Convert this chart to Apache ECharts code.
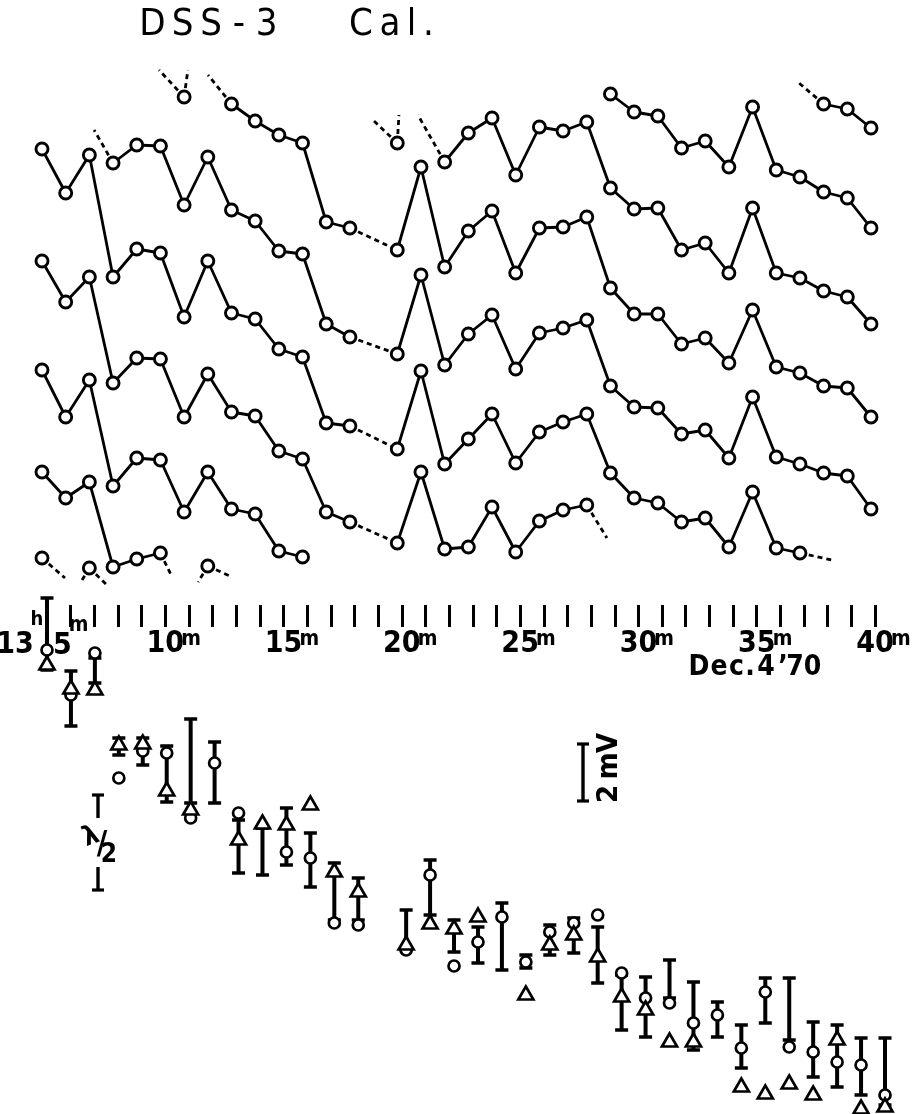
<!DOCTYPE html>
<html>
<head>
<meta charset="utf-8">
<script src="https://cdn.jsdelivr.net/npm/echarts@6/dist/echarts.min.js"></script>
<style>html,body{margin:0;padding:0;background:#fff}#chart{width:913px;height:1114px}</style>
</head>
<body>
<div id="chart"></div>
<script>
// ---------- DATA ----------
// minutes after 13h (Dec. 4 '70)
const minutes = [5,6,7,8,9,10,11,12,13,14,15,16,17,18,19,20,21,22,23,24,25,26,27,28,29,30,31,32,33,34,35,36,37,38,39,40];

// Upper panel: phase traces (arbitrary phase units, repeated every ~lambda/2), null = not plotted
const traceTop3 = [null,null,null,null,null,null,null,null,null,null,null,null,null,null,null,null,null,null,null,null,null,null,null,null,null,null,null,null,null,null,null,null,null,496,491,472];
const traceTop2 = [null,null,null,null,null,null,null,null,null,null,null,null,null,null,null,null,null,null,null,null,null,null,null,null,506,488,484,452,459,433,493,430,423,408,402,372];
const traceTop1 = [null,null,null,null,null,null,null,null,null,null,null,null,null,null,null,457,null,438,467,482,425,473,469,478,412,391,392,350,357,327,392,327,322,309,303,276];
const trace0 = [null,null,null,null,null,null,503,null,496,479,465,457,378,372,null,350,433,333,369,389,327,372,373,383,312,286,286,256,262,237,290,233,227,214,212,183];
const trace1 = [null,null,null,437,455,454,395,443,390,379,349,346,276,263,null,246,325,235,266,285,231,267,272,280,214,193,192,166,170,142,203,143,136,127,124,91];
const trace2 = [451,407,445,323,351,347,283,339,287,281,251,243,177,174,null,151,229,136,161,186,137,168,178,186,127,102,97,78,82,53,108,52,47,null,null,null];
const trace3 = [339,298,323,217,242,241,183,226,188,184,149,141,88,78,null,57,128,51,53,93,48,79,90,95,null,null,null,null,null,null,null,null,null,null,null,null];
const trace4 = [230,183,220,114,142,140,88,128,91,86,49,43,null,null,null,null,null,null,null,null,null,null,null,null,null,null,null,null,null,null,null,null,null,null,null,null];
const trace5 = [128,102,118,33,41,47,null,34,null,null,null,null,null,null,null,null,null,null,null,null,null,null,null,null,null,null,null,null,null,null,null,null,null,null,null,null];
const trace6 = [42,null,32,null,null,null,null,null,null,null,null,null,null,null,null,null,null,null,null,null,null,null,null,null,null,null,null,null,null,null,null,null,null,null,null,null];
const missingMinutes = [19];
// dashed continuation stubs: [minute, value, towardMinute, towardValue]
const stubs = [
  [8,437,7.2,470],
  [11,503,9.94,530],[11,503,11.16,530],
  [13,496,12.01,525],
  [20,457,18.97,480],[20,457,20.07,485],
  [22,438,20.87,485],
  [38,496,36.91,518],
  [37,47,38.35,40],
  [28,95,28.85,62],
  [10,47,10.49,23],
  [12,34,11.59,18],[12,34,13.02,23],
  [5,42,5.97,22],
  [7,32,6.69,20],[7,32,7.74,15]
];

// Lower panel (amplitude, arbitrary units; 2 mV = 60 units)
const bottomMinutes = [5,6,7,8,9,10,11,12,13,14,15,16,17,18,20,21,22,23,24,25,26,27,28,29,30,31,32,33,34,35,36,37,38,39,40];
const circleValues   = [460,415,457,332,359,357,292,347,297,null,258,252,187,185,160,235,144,168,193,148,178,187,195,137,112,107,87,95,62,118,63,58,48,45,15];
const triangleValues = [447,423,422,367,368,321,302,null,272,288,287,307,240,220,167,188,183,195,null,117,167,177,155,115,102,70,70,null,25,18,28,17,72,3,5];
const barHigh        = [512,439,452,372,372,364,391,368,290,282,302,277,247,232,200,250,190,183,207,155,185,192,183,135,133,150,128,108,85,132,132,88,85,72,72];
const barLow         = [440,384,427,355,345,308,307,307,237,235,245,223,190,190,160,195,158,147,140,142,155,157,127,80,73,112,60,73,42,87,70,33,23,15,5];

// Axis labels
const labelMinutes = [10,15,20,25,30,35,40];
const labelTexts = ['10','15','20','25','30','35','40'];

// ---------- CHART ----------
const NARROW = '"Liberation Sans Narrow","DejaVu Sans Condensed","Liberation Sans","DejaVu Sans",sans-serif';
const chart = echarts.init(document.getElementById('chart'), null, {renderer: 'canvas'});

const allTraces = [traceTop3, traceTop2, traceTop1, trace0, trace1, trace2, trace3, trace4, trace5, trace6];

const bridges = [];
allTraces.forEach(arr => missingMinutes.forEach(mm => {
  const i = minutes.indexOf(mm);
  if (i > 0 && i < minutes.length - 1 && arr[i] == null && arr[i-1] != null && arr[i+1] != null) {
    bridges.push([minutes[i-1], arr[i-1], minutes[i+1], arr[i+1]]);
  }
}));

function dashedSeries(data) {
  return {
    type: 'custom', xAxisIndex: 0, yAxisIndex: 0, data: data,
    encode: {x: [0, 2], y: [1, 3]},
    renderItem: (params, api) => {
      const a = api.coord([api.value(0), api.value(1)]);
      const b = api.coord([api.value(2), api.value(3)]);
      return {type: 'line', shape: {x1: a[0], y1: a[1], x2: b[0], y2: b[1]},
              style: {stroke: '#000', lineWidth: 2.8, lineDash: [5, 4], fill: null}};
    },
    z: 2, silent: true, animation: false, clip: false
  };
}

const traceSeries = allTraces.map(arr => ({
  type: 'line', xAxisIndex: 0, yAxisIndex: 0,
  data: minutes.map((m, i) => [m, arr[i] == null ? '-' : arr[i]]),
  symbol: 'circle', symbolSize: 12, showSymbol: true, showAllSymbol: true, connectNulls: false,
  lineStyle: {color: '#000', width: 2.8},
  itemStyle: {color: '#fff', borderColor: '#000', borderWidth: 2.9},
  emphasis: {disabled: true}, silent: true, animation: false, z: 3, clip: false
}));

const errorBarSeries = {
  type: 'custom', xAxisIndex: 1, yAxisIndex: 1,
  data: bottomMinutes.map((m, i) => [m, barHigh[i], barLow[i]]),
  encode: {x: 0, y: [1, 2]},
  renderItem: (params, api) => {
    const m = api.value(0);
    const t = api.coord([m, api.value(1)]);
    const b = api.coord([m, api.value(2)]);
    const w = 6.5;
    return {type: 'group', children: [
      {type: 'line', shape: {x1: t[0], y1: t[1], x2: b[0], y2: b[1]}, style: {stroke: '#000', lineWidth: 4}},
      {type: 'line', shape: {x1: t[0]-w, y1: t[1], x2: t[0]+w, y2: t[1]}, style: {stroke: '#000', lineWidth: 3.5}},
      {type: 'line', shape: {x1: b[0]-w, y1: b[1], x2: b[0]+w, y2: b[1]}, style: {stroke: '#000', lineWidth: 3.5}}
    ]};
  },
  z: 2, silent: true, animation: false, clip: false
};

const circleSeries = {
  type: 'scatter', xAxisIndex: 1, yAxisIndex: 1,
  data: bottomMinutes.map((m, i) => circleValues[i] == null ? null : [m, circleValues[i]]).filter(d => d),
  symbol: 'circle', symbolSize: 11,
  itemStyle: {color: '#fff', borderColor: '#000', borderWidth: 2.7, opacity: 1},
  emphasis: {disabled: true}, silent: true, animation: false, z: 4, clip: false
};
const triangleSeries = {
  type: 'scatter', xAxisIndex: 1, yAxisIndex: 1,
  data: bottomMinutes.map((m, i) => triangleValues[i] == null ? null : [m, triangleValues[i]]).filter(d => d),
  symbol: 'triangle', symbolSize: [15, 13],
  itemStyle: {color: '#fff', borderColor: '#000', borderWidth: 2.7, opacity: 1},
  emphasis: {disabled: true}, silent: true, animation: false, z: 4, clip: false
};

// ---------- annotations ----------
function charText(ch, x, y, size, extra, weight) {
  return Object.assign({
    type: 'text', x: x, y: y, silent: true,
    style: {text: ch, font: (weight || 'bold') + ' ' + size + 'px ' + NARROW, fill: '#000',
            align: 'center', verticalAlign: 'middle', textAlign: 'center', textVerticalAlign: 'middle'}
  }, extra || {});
}
const graphics = [];
// title
[['D',152.5],['S',182.5],['S',211],['-',239],['3',266.7],['C',361],['a',390],['l',411.5],['.',428.5]]
  .forEach(p => graphics.push(charText(p[0], p[1], 25, 38, null, 'normal')));
// start label 13h 5m
graphics.push(charText('13', 15, 645, 30));
graphics.push(charText('h', 37, 620, 20));
graphics.push(charText('5', 62.5, 646, 30));
graphics.push(charText('m', 78.5, 626, 21));
// date
[['D',699],['e',719],['c',736.5],['.',750],['4',766],['\u2019',783],['7',795],['0',812.5]]
  .forEach(p => graphics.push(charText(p[0], p[1], 668, 28)));
// lambda/2 scale bar
const bar = (x, y1, y2) => ({type: 'line', silent: true, shape: {x1: x, y1: y1, x2: x, y2: y2}, style: {stroke: '#000', lineWidth: 3.4}});
const cap = (x, y) => ({type: 'line', silent: true, shape: {x1: x-6, y1: y, x2: x+6, y2: y}, style: {stroke: '#000', lineWidth: 3.2}});
graphics.push(bar(98, 794, 818), cap(98, 795), bar(98, 867, 890), cap(98, 890));
graphics.push(charText('\u03bb', 91, 837, 27, {rotation: 0.35}));
graphics.push(charText('/', 102, 845, 32));
graphics.push(charText('2', 109, 855, 26));
// 2 mV scale bar
graphics.push(bar(583, 743, 802), cap(583, 744), cap(583, 801));
[['V',743],['m',766],['2',794]].forEach(p => graphics.push(charText(p[0], 609, p[1], 29, {rotation: Math.PI/2})));

const option = {
  backgroundColor: '#fff',
  animation: false,
  grid: [
    {left: 42, right: 42, top: 60, height: 540, outerBoundsMode: 'none', containLabel: false},
    {left: 47, right: 28, top: 590, height: 520, outerBoundsMode: 'none', containLabel: false},
    {left: 47, right: 38, top: 600, height: 27, outerBoundsMode: 'none', containLabel: false}
  ],
  xAxis: [
    {gridIndex: 0, type: 'value', min: 5, max: 40, show: false},
    {gridIndex: 1, type: 'value', min: 5, max: 40, show: false},
    {gridIndex: 2, type: 'value', min: 5, max: 40, interval: 1, position: 'bottom',
     axisLine: {show: false}, splitLine: {show: false},
     axisTick: {show: true, inside: true, length: 22, lineStyle: {color: '#000', width: 3}},
     axisLabel: {
       show: true, margin: 2, showMinLabel: true, showMaxLabel: true, hideOverlap: false,
       formatter: v => { const k = labelMinutes.indexOf(v); return k < 0 ? '' : '{p| }{n|' + labelTexts[k] + '}{m|m}'; },
       rich: {
         p: {width: 14, fontSize: 21, fontFamily: NARROW},
         n: {fontSize: 30, fontFamily: NARROW, fontWeight: 'bold', color: '#000', lineHeight: 30},
         m: {fontSize: 21, fontFamily: NARROW, fontWeight: 'bold', color: '#000', width: 14, verticalAlign: 'top', lineHeight: 15}
       }
     }}
  ],
  yAxis: [
    {gridIndex: 0, type: 'value', min: 0, max: 540, show: false},
    {gridIndex: 1, type: 'value', min: 0, max: 520, show: false},
    {gridIndex: 2, type: 'value', min: 0, max: 1, show: false}
  ],
  graphic: graphics,
  series: [dashedSeries(stubs), dashedSeries(bridges)].concat(traceSeries, [errorBarSeries, circleSeries, triangleSeries])
};
chart.setOption(option);
</script>
</body>
</html>
